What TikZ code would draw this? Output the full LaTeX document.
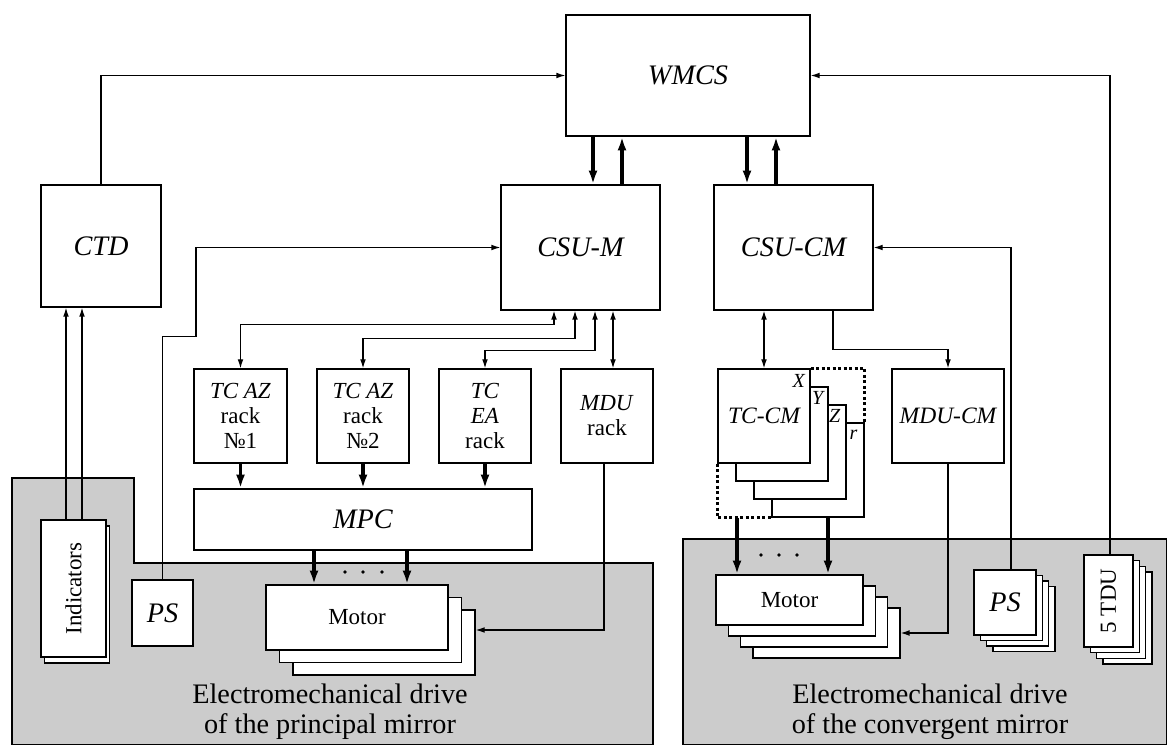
\documentclass[tikz,border=0pt]{standalone}
\usepackage{fontspec}
\setmainfont{Liberation Serif}
\usetikzlibrary{arrows.meta, calc}
\tikzset{
    blk/.style 2 args={draw, fill=white, line width=0.5pt, inner sep=0pt,
        minimum width=#1*0.4pt, minimum height=#2*0.4pt, align=center},
    bigtxt/.style={font=\fontsize{11.3}{13}\selectfont\itshape},
    midtxt/.style={font=\fontsize{9.4}{10}\selectfont\itshape},
    smltxt/.style={font=\fontsize{9.2}{10}\selectfont},
    tagtxt/.style={font=\fontsize{8}{9}\selectfont\itshape, inner sep=0pt},
    captxt/.style={font=\fontsize{11.3}{12}\selectfont, align=center},
    zone/.style={draw, line width=0.5pt, fill=black!20},
    arr/.style={line width=0.5pt, -{Latex[length=3.6pt, width=2.3pt]}},
    darr/.style={line width=0.5pt, {Latex[length=3.6pt, width=2.3pt]}-{Latex[length=3.6pt, width=2.3pt]}},
    tarr/.style={line width=1.4pt, -{Latex[length=5.5pt, width=3.6pt]}},
    dotln/.style={line width=1.2pt, densely dotted}
}

\begin{document}
\begin{tikzpicture}[x=0.4pt, y=-0.4pt]
\useasboundingbox (0,0) rectangle (1167,745);

% Bereiche der Antriebe
\draw[zone] (12,745) -- (12,478) -- (134,478) -- (134,563) -- (653,563) -- (653,745) -- cycle;
\draw[zone] (683,745) -- (683,539) -- (1167,539) -- (1167,745) -- cycle;

% Hauptbloecke
\node[blk={244}{121}, bigtxt] (wmcs) at (688,75.5) {WMCS};
\node[blk={120}{122}, bigtxt] (ctd) at (101,246) {CTD};
\node[blk={159}{125}, bigtxt] (csum) at (580.5,247.5) {CSU-M};
\node[blk={159}{125}, bigtxt] (csucm) at (793.5,247.5) {CSU-CM};

% Schraenke
\node[blk={93}{94}, smltxt] (tcaz1) at (240.5,416) {\textit{TC AZ}\\rack\\№1};
\node[blk={92}{94}, smltxt] (tcaz2) at (363,416) {\textit{TC AZ}\\rack\\№2};
\node[blk={92}{94}, smltxt] (tcea) at (485,416) {\textit{TC}\\\textit{EA}\\rack};
\node[blk={92}{94}, smltxt] (mdu) at (607,416) {\textit{MDU}\\rack};
\node[blk={338}{61}, bigtxt] (mpc) at (363,519.5) {MPC};

% Motoren links
\node[blk={182}{65}] (mota3) at (384,642.5) {};
\node[blk={182}{65}] (mota2) at (370.5,630) {};
\node[blk={182}{65}, smltxt] (mota1) at (357,617.5) {Motor};

% PS und Anzeigen
\node[blk={61}{66}, bigtxt] (ps1) at (162.5,613) {PS};
\node[blk={65}{137}] (indb) at (77,594.5) {};
\node[blk={65}{137}, smltxt] (ind) at (73.5,588.5) {\rotatebox{90}{Indicators}};

% TC-CM Stapel
\node[blk={92}{94}] (tcr) at (818,470) {};
\node[blk={92}{94}] (tcz) at (800,452) {};
\node[blk={92}{94}] (tcy) at (782,434) {};
\node[blk={92}{94}, midtxt] (tccm) at (764,416) {TC-CM};
\node[tagtxt] (tagx) at ($(tccm.north east)+(-12,13)$) {X};
\node[tagtxt] (tagy) at ($(tcy.north east)+(-11,12)$) {Y};
\node[tagtxt] (tagz) at ($(tcz.north east)+(-12,12)$) {Z};
\node[tagtxt] (tagr) at ($(tcr.north east)+(-11,12)$) {r};
\node[blk={112}{94}, midtxt] (mducm) at (948,416) {MDU-CM};

% Motoren rechts
\node[blk={147}{50}] (mot2d) at (826.4,633) {};
\node[blk={147}{50}] (mot2c) at (814.1,622) {};
\node[blk={147}{50}] (mot2b) at (801.8,611) {};
\node[blk={147}{50}, smltxt] (mot2a) at (789.5,600) {Motor};

% PS rechts
\node[blk={62}{65}] (ps2d) at (1024,619) {};
\node[blk={62}{65}] (ps2c) at (1017.6,613.5) {};
\node[blk={62}{65}] (ps2b) at (1011.3,608) {};
\node[blk={62}{65}, bigtxt] (ps2a) at (1005,602.5) {PS};

% 5 TDU
\node[blk={49}{92}] (tdud) at (1127.4,618.1) {};
\node[blk={49}{92}] (tduc) at (1121.1,612.4) {};
\node[blk={49}{92}] (tdub) at (1114.8,606.7) {};
\node[blk={49}{92}, smltxt] (tdua) at (1108.5,601) {\rotatebox{90}{5 TDU}};

% Beschriftung
\node[captxt] (capl) at (330,712) {Electromechanical drive\\of the principal mirror};
\node[captxt] (capr) at (930,712) {Electromechanical drive\\of the convergent mirror};

% Verbindungen oben
\draw[arr] (ctd.north) |- (wmcs.west);
\draw[arr] ($(tdua.north)+(1.5,0)$) |- (wmcs.east);
\coordinate (w1) at ($(wmcs.south)+(-95,0)$);
\coordinate (w2) at ($(wmcs.south)+(-66,0)$);
\coordinate (w3) at ($(wmcs.south)+(59,0)$);
\coordinate (w4) at ($(wmcs.south)+(88,0)$);
\draw[tarr] (w1) -- (w1 |- csum.north);
\draw[tarr] (w2 |- csum.north) -- (w2);
\draw[tarr] (w3) -- (w3 |- csucm.north);
\draw[tarr] (w4 |- csucm.north) -- (w4);

% Anzeigen zu CTD
\coordinate (i1) at ($(ind.north)+(-7.5,0)$);
\coordinate (i2) at ($(ind.north)+(8.5,0)$);
\draw[arr] (i1) -- (i1 |- ctd.south);
\draw[arr] (i2) -- (i2 |- ctd.south);

% PS zu CSU-M
\coordinate (psbend) at ($(ps1.north)+(33.5,-243)$);
\draw[arr] (ps1.north) |- (psbend) |- (csum.west);

% CSU-M zu Schraenken
\coordinate (c1) at ($(csum.south)+(-26.5,0)$);
\coordinate (c2) at ($(csum.south)+(-5.5,0)$);
\coordinate (c3) at ($(csum.south)+(14.5,0)$);
\coordinate (c4) at ($(mdu.north)+(6,0)$);
\draw[darr] (tcaz1.north) |- ($(c1)+(0,14)$) -- (c1);
\draw[darr] (tcaz2.north) |- ($(c2)+(0,28)$) -- (c2);
\draw[darr] (tcea.north) |- ($(c3)+(0,40)$) -- (c3);
\draw[darr] (c4 |- csum.south) -- (c4);

% Schraenke zu MPC
\draw[tarr] (tcaz1.south) -- (tcaz1.south |- mpc.north);
\draw[tarr] (tcaz2.south) -- (tcaz2.south |- mpc.north);
\draw[tarr] (tcea.south) -- (tcea.south |- mpc.north);

% MPC zu Motoren
\coordinate (p1) at ($(mpc.south)+(-49,0)$);
\coordinate (p2) at ($(mpc.south)+(44,0)$);
\draw[tarr] (p1) -- (p1 |- mota1.north);
\draw[tarr] (p2) -- (p2 |- mota1.north);
\fill (345,572) circle (1.8);
\fill (363,572) circle (1.8);
\fill (382,572) circle (1.8);
\draw[arr] ($(mdu.south)+(-3,0)$) |- (mota3.east |- mota2.east);

% rechte Seite
\draw[darr] (tccm.north |- csucm.south) -- (tccm.north);
\draw[arr] ($(csucm.south)+(39.5,0)$) |- ($(mducm.north)+(0,-19)$) -- (mducm.north);
\draw[dotln] (tccm.north east) -| (tcr.north east);
\draw[dotln] (tccm.south west) |- (tcr.south west);
\coordinate (q1) at ($(mot2a.north)+(-52.5,0)$);
\coordinate (q2) at ($(mot2a.north)+(38.5,0)$);
\draw[tarr] (q1 |- tcr.south) -- (q1);
\draw[tarr] (q2 |- tcr.south) -- (q2);
\fill (761,555) circle (1.8);
\fill (779,555) circle (1.8);
\fill (797,555) circle (1.8);
\draw[arr] (mducm.south) |- (mot2d.east);
\draw[arr] ($(ps2a.north)+(6,0)$) |- (csucm.east);
\end{tikzpicture}
\end{document}
